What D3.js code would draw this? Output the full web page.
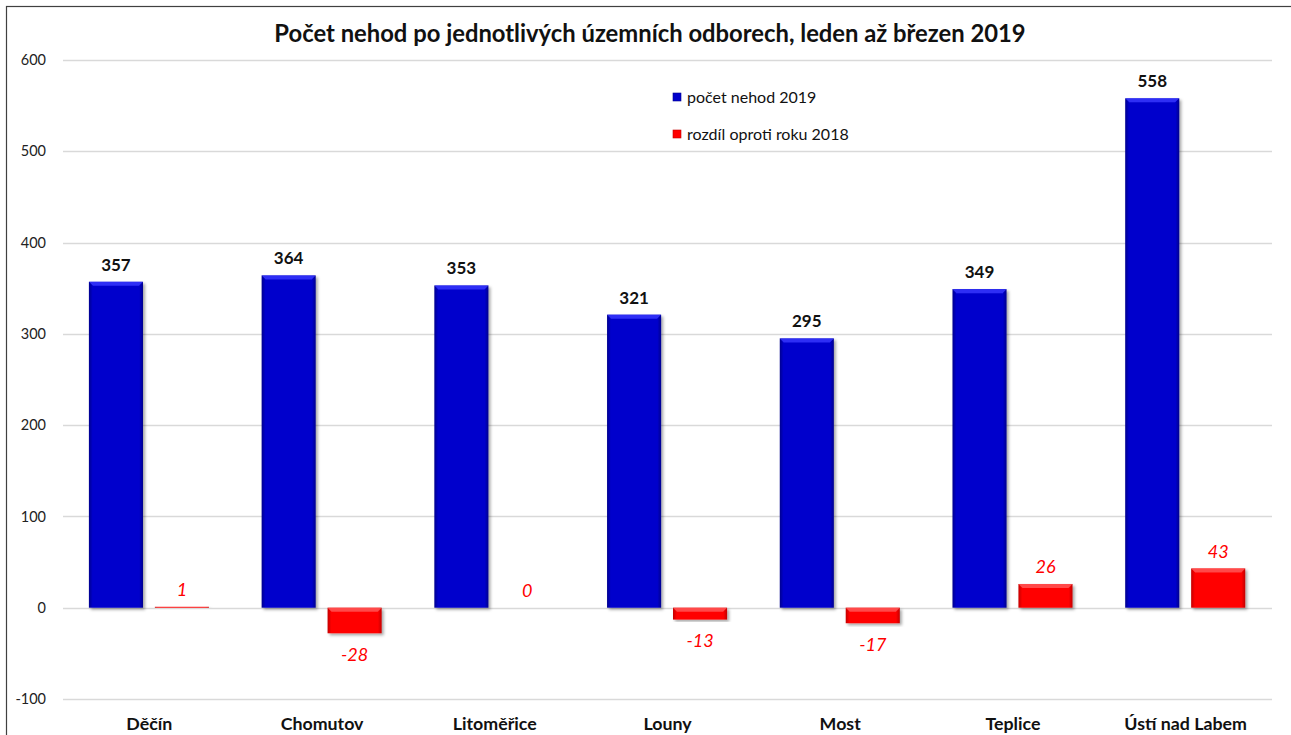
<html>
<head>
<meta charset="utf-8">
<title>nehody</title>
<style>
    body { margin: 0; background: #fff; }
    svg { display: block; font-family: Lato, "Noto Sans", sans-serif; }
</style>
</head>
<body>
<script src="https://cdn.jsdelivr.net/npm/d3@7"></script>
<script>
    // data
    var categories = ['Děčín', 'Chomutov', 'Litoměřice', 'Louny', 'Most', 'Teplice', 'Ústí nad Labem'];
    var series = ['počet nehod 2019', 'rozdíl oproti roku 2018'];
    var count2019 = [357, 364, 353, 321, 295, 349, 558];
    var diff2018 = [1, -28, 0, -13, -17, 26, 43];
    var yTicks = [-100, 0, 100, 200, 300, 400, 500, 600];

    var w = 1291, h = 735;
    var svg = d3.select('body').append('svg').attr('width', w).attr('height', h);

    var defs = svg.append('defs');

    var shadow = defs.append('filter').attr('id', 'shadow')
        .attr('x', '-20%').attr('y', '-20%').attr('width', '140%').attr('height', '140%');
    shadow.append('feDropShadow').attr('dx', 2).attr('dy', 2)
        .attr('stdDeviation', 1.5).attr('flood-color', '#000').attr('flood-opacity', 0.35);

    function sideGradient(id, edge, mid) {
        var g = defs.append('linearGradient').attr('id', id)
            .attr('x1', 0).attr('x2', 1).attr('y1', 0).attr('y2', 0);
        g.append('stop').attr('offset', '0%').attr('stop-color', edge);
        g.append('stop').attr('offset', '7%').attr('stop-color', mid);
        g.append('stop').attr('offset', '93%').attr('stop-color', mid);
        g.append('stop').attr('offset', '100%').attr('stop-color', edge);
    }
    sideGradient('gBlue', '#00008f', '#0000cc');
    sideGradient('gRed', '#c40000', '#ff0000');

    // frame
    svg.append('rect').attr('x', 6.5).attr('y', 6.5).attr('width', w).attr('height', h)
        .attr('fill', 'none').attr('stroke', '#404040').attr('stroke-width', 1.2);

    // title
    svg.append('text').attr('x', 650).attr('y', 42).attr('text-anchor', 'middle')
        .attr('font-size', 23.8).attr('font-weight', 'bold').attr('fill', '#111')
        .text('Počet nehod po jednotlivých územních odborech, leden až březen 2019');

    var x = d3.scaleBand().domain(categories).range([63, 1272]);
    var bw = x.bandwidth();
    var x1 = d3.scaleBand().domain(series).range([bw * 0.15, bw * 0.845]).paddingInner(0.18);
    var y = d3.scaleLinear().domain([-100, 600]).range([699, 60]);

    // grid
    svg.append('g').selectAll('line').data(yTicks).join('line')
        .attr('x1', 63).attr('x2', 1272)
        .attr('y1', function (d) { return Math.round(y(d)) + 0.5; })
        .attr('y2', function (d) { return Math.round(y(d)) + 0.5; })
        .attr('stroke', '#d9d9d9').attr('stroke-width', 1.3);

    svg.append('g').selectAll('text').data(yTicks).join('text')
        .attr('x', 46).attr('y', function (d) { return y(d); })
        .attr('dy', '0.35em').attr('text-anchor', 'end')
        .attr('font-size', 14.5).attr('fill', '#222')
        .text(function (d) { return d; });

    // category labels
    svg.append('g').selectAll('text').data(categories).join('text')
        .attr('x', function (d) { return x(d) + bw / 2; })
        .attr('y', 724).attr('dy', '0.35em').attr('text-anchor', 'middle')
        .attr('font-size', 17.8).attr('font-weight', 'bold').attr('fill', '#111')
        .text(function (d) { return d; });

    function drawBars(values, key, fill, top) {
        var rows = values.map(function (v, i) { return { cat: categories[i], v: v }; });
        var bx = function (d) { return x(d.cat) + x1(key); };
        var bars = svg.append('g').selectAll('g').data(rows).join('g')
            .attr('filter', 'url(#shadow)');
        bars.append('rect')
            .attr('x', bx)
            .attr('width', x1.bandwidth())
            .attr('y', function (d) { return y(Math.max(0, d.v)); })
            .attr('height', function (d) { return Math.abs(y(d.v) - y(0)); })
            .attr('fill', fill);
        // top bevel highlight
        bars.filter(function (d) { return Math.abs(y(d.v) - y(0)) > 6; }).append('polygon')
            .attr('points', function (d) {
                var x0 = bx(d), bwid = x1.bandwidth();
                var t = y(Math.max(0, d.v));
                return [[x0, t], [x0 + bwid, t], [x0 + bwid - 4, t + 4], [x0 + 4, t + 4]].join(' ');
            })
            .attr('fill', top).attr('opacity', 0.8);
    }
    drawBars(count2019, series[0], 'url(#gBlue)', '#3a3aff');
    drawBars(diff2018, series[1], 'url(#gRed)', '#ff5a5a');

    // value labels
    svg.append('g').selectAll('text').data(count2019).join('text')
        .attr('x', function (d, i) { return x(categories[i]) + x1(series[0]) + x1.bandwidth() / 2; })
        .attr('y', function (d) { return y(d) - 17; })
        .attr('dy', '0.35em').attr('text-anchor', 'middle')
        .attr('font-size', 17).attr('font-weight', 'bold').attr('fill', '#111')
        .text(function (d) { return d; });

    svg.append('g').selectAll('text').data(diff2018).join('text')
        .attr('x', function (d, i) { return x(categories[i]) + x1(series[1]) + x1.bandwidth() / 2; })
        .attr('y', function (d) { return d < 0 ? y(d) + 21 : y(d) - 17; })
        .attr('dy', '0.35em').attr('text-anchor', 'middle')
        .attr('font-size', 18).attr('font-style', 'italic').attr('fill', '#ff0000')
        .text(function (d) { return d; });

    // legend
    var legend = svg.append('g').selectAll('g').data(series).join('g')
        .attr('transform', function (d, i) { return 'translate(673,' + (93 + i * 37) + ')'; });
    legend.append('rect').attr('width', 8).attr('height', 8)
        .attr('fill', function (d, i) { return i === 0 ? '#0000cc' : '#ff0000'; })
        .attr('stroke', function (d, i) { return i === 0 ? '#00008f' : '#c40000'; })
        .attr('stroke-width', 0.6);
    legend.append('text').attr('x', 14).attr('y', 4).attr('dy', '0.35em')
        .attr('font-size', 16).attr('fill', '#111')
        .text(function (d) { return d; });
</script>
</body>
</html>
